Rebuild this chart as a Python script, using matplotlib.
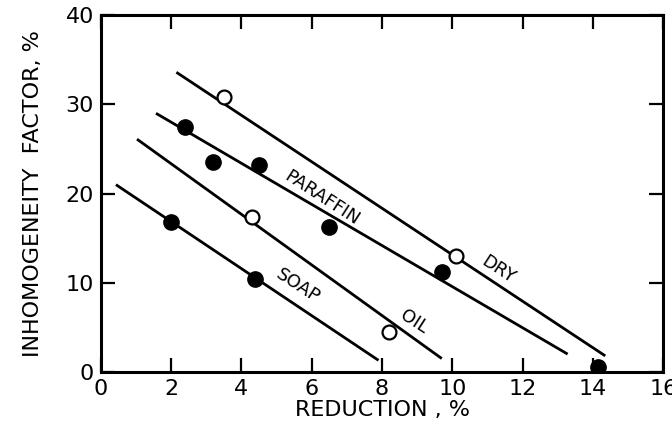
import matplotlib.pyplot as plt

plt.rcParams['font.family'] = ['DejaVu Sans']

# fitted lines (start and end points)
dry_line_x = [2.15, 14.35]
dry_line_y = [33.6, 1.8]
paraffin_line_x = [1.57, 13.28]
paraffin_line_y = [29.0, 2.0]
oil_line_x = [1.03, 9.7]
oil_line_y = [26.1, 1.5]
soap_line_x = [0.43, 7.9]
soap_line_y = [21.0, 1.3]

# measured points
dry_x = [3.5, 10.1]
dry_y = [30.8, 13.0]
oil_x = [4.3, 8.2]
oil_y = [17.4, 4.5]
paraffin_x = [2.4, 3.2, 4.5, 6.5, 9.7, 14.15]
paraffin_y = [27.5, 23.5, 23.2, 16.3, 11.2, 0.6]
soap_x = [2.0, 4.4]
soap_y = [16.8, 10.4]

labels = ['PARAFFIN', 'DRY', 'OIL', 'SOAP']
label_x = [6.3, 11.3, 8.9, 5.6]
label_y = [19.5, 11.5, 5.6, 9.6]

fig = plt.figure(figsize=(6.72, 4.34), dpi=100)
ax = fig.add_axes([0.150, 0.143, 0.837, 0.822])

lw = 2.0
for lx, ly in [(dry_line_x, dry_line_y), (paraffin_line_x, paraffin_line_y),
               (oil_line_x, oil_line_y), (soap_line_x, soap_line_y)]:
    ax.plot(lx, ly, color='black', lw=lw, solid_capstyle='butt')

ax.plot(dry_x + oil_x, dry_y + oil_y, 'o', ms=10, mfc='white', mec='black', mew=1.6)
ax.plot(paraffin_x + soap_x, paraffin_y + soap_y, 'o', ms=11, color='black')

for t, x, y in zip(labels, label_x, label_y):
    ax.text(x, y, t, rotation=-33, ha='center', va='center', fontsize=13,
            rotation_mode='anchor')

ax.set_xlim(0, 16)
ax.set_ylim(0, 40)
ax.set_xticks(range(0, 17, 2))
ax.set_xticklabels(['0', '2', '4', '6', '8', '10', '12', '14', '16'])
ax.set_yticks(range(0, 41, 10))
ax.tick_params(direction='in', length=10, width=1.6, labelsize=16, pad=5,
               top=True, right=True)
for s in ax.spines.values():
    s.set_linewidth(2.2)

ax.set_xlabel('REDUCTION , %', fontsize=16, labelpad=1)
ax.set_ylabel('INHOMOGENEITY  FACTOR, %', fontsize=16, labelpad=16)

fig.savefig('out.png', dpi=100)
